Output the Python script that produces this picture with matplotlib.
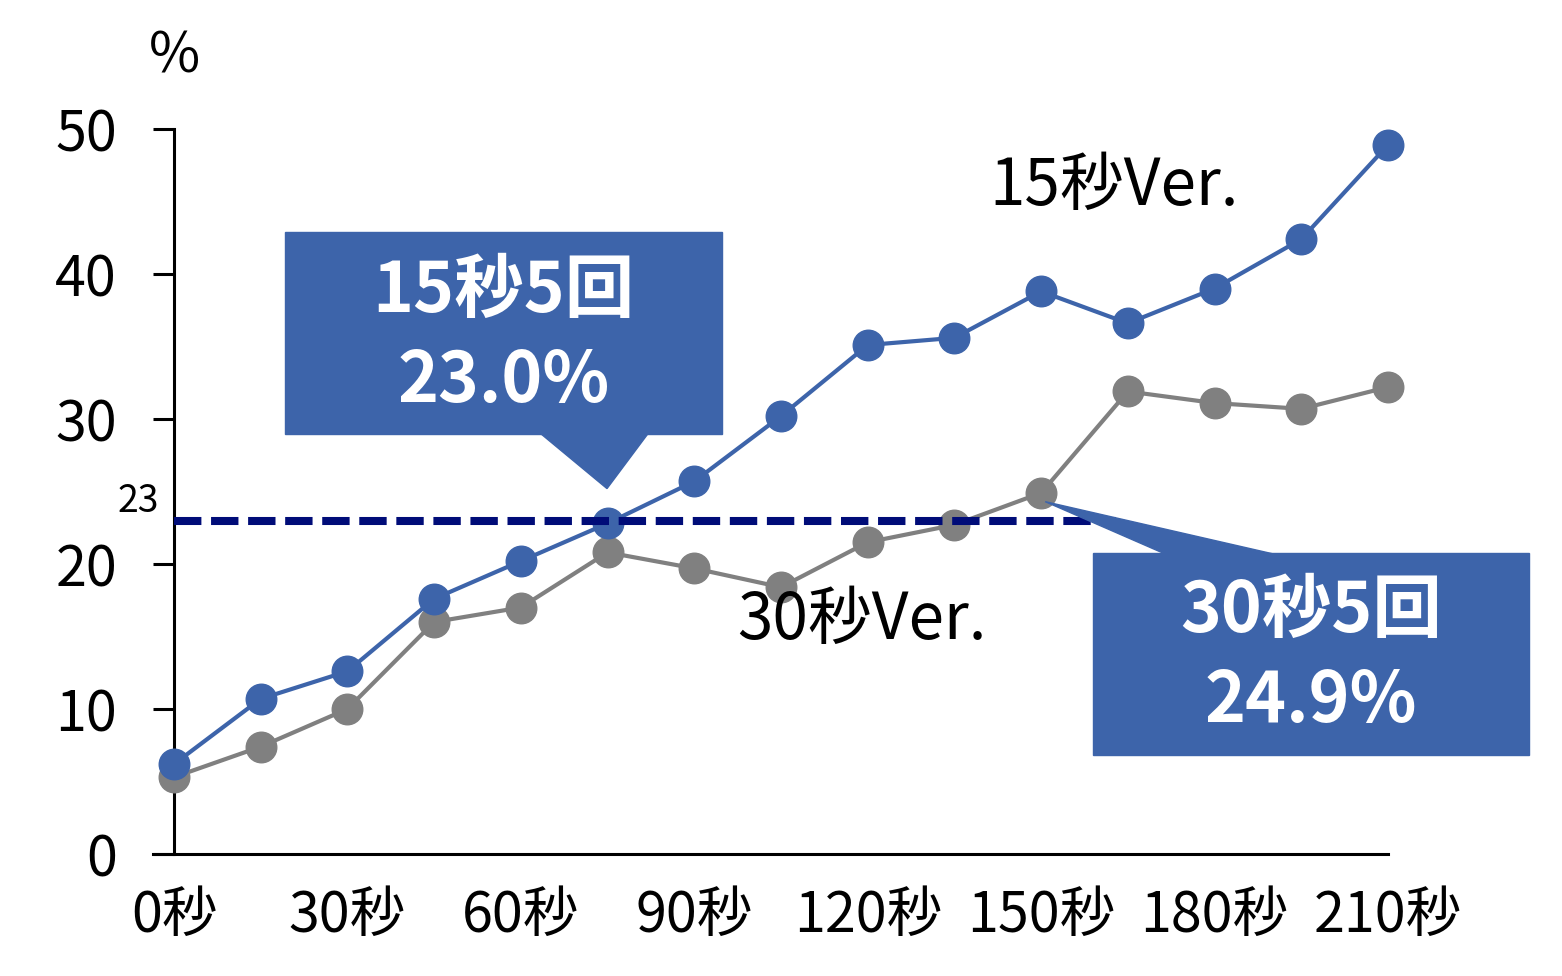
import numpy as np
import matplotlib.pyplot as plt
from matplotlib.patches import Rectangle, Polygon

plt.rcParams['font.family'] = ['Noto Sans CJK JP', 'DejaVu Sans']

# データ（15秒刻み）
seconds = [0, 15, 30, 45, 60, 75, 90, 105, 120, 135, 150, 165, 180, 195, 210]
ver15 = [6.2, 10.7, 12.6, 17.6, 20.2, 22.8, 25.7, 30.2, 35.1, 35.6, 38.8, 36.6, 39.0, 42.4, 48.9]
ver30 = [5.3, 7.4, 10.0, 16.0, 17.0, 20.8, 19.7, 18.4, 21.5, 22.7, 24.9, 31.9, 31.1, 30.7, 32.2]
xticks = [0, 30, 60, 90, 120, 150, 180, 210]
xlabels = [f'{s}秒' for s in xticks]
yticks = [0, 10, 20, 30, 40, 50]
ref_value = 23

blue = '#3D64AA'
gray = '#808080'
navy = '#000C78'

fig = plt.figure(figsize=(15.62, 9.76), dpi=100)
ax = fig.add_axes([174 / 1562, 122 / 976, 1214 / 1562, 725 / 976])

ax.plot(seconds, ver30, color=gray, lw=3, marker='o', ms=22, clip_on=False, zorder=3)
ax.plot(seconds, ver15, color=blue, lw=3, marker='o', ms=22, clip_on=False, zorder=4)

# 基準線
ax.hlines(ref_value, 0, 163, colors=navy, linestyles=(0, (3.4, 1.2)), lw=5.8, zorder=5)
ax.text(-6.2, 24.3, str(ref_value), fontsize=27, ha='center', va='center')

ax.set_xlim(0, 210)
ax.set_ylim(0, 50)
ax.set_xticks(xticks)
ax.set_xticklabels(xlabels)
ax.set_yticks(yticks)
ax.tick_params(axis='x', length=0, labelsize=40, pad=24)
ax.tick_params(axis='y', length=15, width=2.2, labelsize=40, pad=26)
for s in ['top', 'right']:
    ax.spines[s].set_visible(False)
for s in ['left', 'bottom']:
    ax.spines[s].set_linewidth(2.2)
ax.spines['bottom'].set_bounds(-3.6, 210)

ax.text(0, 55.0, '%', fontsize=40, ha='center', va='center')

# 系列ラベル
ax.text(162.6, 46.0, '15秒Ver.', fontsize=46, ha='center', va='center')
ax.text(119.0, 16.1, '30秒Ver.', fontsize=46, ha='center', va='center')

# 吹き出し 1
ax.add_patch(Rectangle((19.2, 29.0), 75.6, 13.9, color=blue, clip_on=False, zorder=6))
ax.add_patch(Polygon([(63.1, 29.1), (82.2, 29.1), (74.9, 25.2)], color=blue, clip_on=False, zorder=6))
ax.text(57.0, 38.8, '15秒5回', fontsize=50, fontweight='bold', color='white', ha='center', va='center', zorder=7)
ax.text(57.0, 32.6, '23.0%', fontsize=50, fontweight='bold', color='white', ha='center', va='center', zorder=7)

# 吹き出し 2
ax.add_patch(Rectangle((159.0, 6.83), 75.4, 13.93, color=blue, clip_on=False, zorder=6))
ax.add_patch(Polygon([(150.7, 24.3), (171.4, 20.7), (190.1, 20.7)], color=blue, clip_on=False, zorder=6))
ax.text(196.7, 16.7, '30秒5回', fontsize=50, fontweight='bold', color='white', ha='center', va='center', zorder=7)
ax.text(196.7, 10.5, '24.9%', fontsize=50, fontweight='bold', color='white', ha='center', va='center', zorder=7)

fig.savefig('out.png', dpi=100)
